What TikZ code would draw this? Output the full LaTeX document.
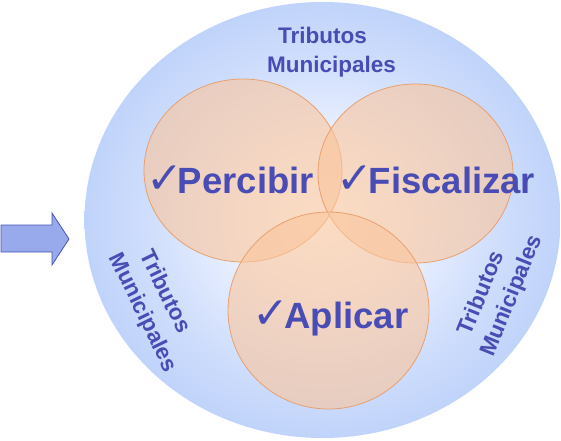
\documentclass[tikz,border=0pt]{standalone}
\usepackage{fontspec}
\setmainfont{Liberation Sans}[BoldFont={Liberation Sans Bold}]
\newfontfamily\arialbold{Liberation Sans Bold}
\newfontfamily\dejavu{DejaVu Sans}
\definecolor{txt}{RGB}{72,76,180}
\definecolor{bgA}{RGB}{236,241,255}
\definecolor{bgB}{RGB}{206,221,252}
\definecolor{bgC}{RGB}{192,211,250}
\definecolor{peach}{RGB}{250,198,158}
\definecolor{peachline}{RGB}{232,160,110}
\definecolor{arrowfill}{RGB}{152,170,236}
\definecolor{arrowline}{RGB}{72,84,180}
\pgfdeclareradialshading{bigshade}{\pgfpoint{0bp}{0bp}}{color(0bp)=(white); color(9bp)=(bgA); color(19bp)=(bgB); color(25bp)=(bgC); color(50bp)=(bgC)}
\newcommand{\chk}{{\dejavu\fontsize{44}{44}\selectfont ✓}\hspace{-5pt}}
\begin{document}
\begin{tikzpicture}[x=1pt,y=-1pt,
  bigword/.style={anchor=base, inner sep=0pt, text=txt, font=\arialbold\fontsize{36.5}{40}\selectfont},
  tribtext/.style={inner sep=0pt, text=txt, align=center, font=\arialbold\fontsize{22.5}{29}\selectfont},
  venn/.style={fill=peach, fill opacity=.62, draw=peachline, draw opacity=1, line width=.8pt}]
\useasboundingbox (0,0) rectangle (561,440);
\path[shading=bigshade] (322.5,220) ellipse [x radius=238pt, y radius=218pt];
\path[venn] (243,170.5) ellipse [x radius=99pt, y radius=91.5pt];
\path[venn] (415.5,173.5) ellipse [x radius=97.5pt, y radius=89.5pt];
\path[venn] (328.5,310.5) ellipse [x radius=100.5pt, y radius=98.5pt];
\node[bigword] (percibir) at (230,193) {\chk Percibir};
\node[bigword] (fiscalizar) at (436,193) {\chk Fiscalizar};
\node[bigword] (aplicar) at (330.5,328) {\chk Aplicar};
\node[tribtext] (tribtop) at (322.5,51.7) {Tributos\\\hspace*{18pt}Municipales};
\node[tribtext, rotate=-64] (tribleft) at (151.5,298.5) {Tributos\\\hspace*{18pt}Municipales};
\node[tribtext, rotate=68] (tribright) at (495.5,299) {Tributos\\\hspace*{18pt}Municipales};
\draw[fill=arrowfill, draw=arrowline, line width=.8pt, line join=miter]
  (1,225) -- (52,225) -- (52,213) -- (69,239) -- (52,265) -- (52,252) -- (1,252) -- cycle;
\end{tikzpicture}
\end{document}
